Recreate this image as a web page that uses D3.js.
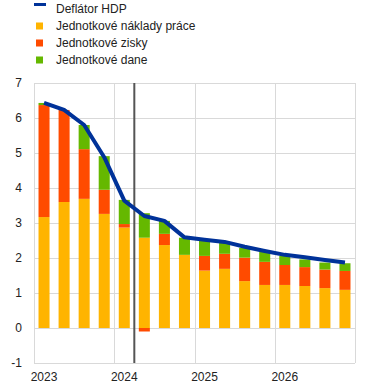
<!DOCTYPE html>
<html>
<head>
<meta charset="utf-8">
<script src="https://cdn.jsdelivr.net/npm/d3@7"></script>
<style>
  body { margin: 0; background: #fff; }
  text { font-family: Arial, "Liberation Sans", sans-serif; font-size: 12px; fill: #222; }
</style>
</head>
<body>
<div id="chart"></div>
<script>
// quarters 2023Q1 - 2026Q4
var quarters = ["2023Q1","2023Q2","2023Q3","2023Q4","2024Q1","2024Q2","2024Q3","2024Q4",
  "2025Q1","2025Q2","2025Q3","2025Q4","2026Q1","2026Q2","2026Q3","2026Q4"];
var years = ["2023", "2024", "2025", "2026"];
var labour  = [3.17, 3.60, 3.69, 3.26, 2.87, 2.58, 2.37, 2.09, 1.64, 1.69, 1.34, 1.23, 1.23, 1.20, 1.14, 1.09];
var profits = [3.20, 2.63, 1.42, 0.69, 0.10, -0.10, 0.32, 0.00, 0.42, 0.43, 0.67, 0.66, 0.57, 0.54, 0.53, 0.54];
var taxes   = [0.06, 0.00, 0.69, 0.96, 0.69, 0.70, 0.37, 0.49, 0.43, 0.32, 0.28, 0.31, 0.26, 0.22, 0.20, 0.22];
var deflator = [6.43, 6.23, 5.80, 4.88, 3.64, 3.20, 3.06, 2.59, 2.52, 2.46, 2.32, 2.20, 2.09, 2.02, 1.94, 1.87];
var yTicks = [-1, 0, 1, 2, 3, 4, 5, 6, 7];
var seriesNames = ["Deflátor HDP", "Jednotkové náklady práce", "Jednotkové zisky", "Jednotkové dane"];
var colors = ["#003299", "#ffb400", "#ff4b00", "#65b800"];

var w = 372, h = 390;
var margin = {top: 83, right: 17, bottom: 27, left: 34};

var svg = d3.select("#chart").append("svg")
  .attr("width", w)
  .attr("height", h);

var x = d3.scaleBand()
  .domain(quarters)
  .range([margin.left, w - margin.right])
  .paddingInner(0.45)
  .paddingOuter(0.225);

var y = d3.scaleLinear()
  .domain([-1, 7])
  .range([h - margin.bottom, margin.top]);

// gridlines
svg.append("g")
  .selectAll("line")
  .data(yTicks)
  .enter()
  .append("line")
  .attr("x1", margin.left)
  .attr("x2", w - margin.right)
  .attr("y1", function(d) { return Math.round(y(d)) + 0.5; })
  .attr("y2", function(d) { return Math.round(y(d)) + 0.5; })
  .style("stroke", "#d9d9d9")
  .style("stroke-width", 1);

// vertical gridlines at year starts + frame edges
var yearEdges = years.map(function(d) { return d + "Q1"; });
svg.append("g")
  .selectAll("line")
  .data(yearEdges.concat(["end"]))
  .enter()
  .append("line")
  .attr("x1", function(d) { return d == "end" ? Math.round(w - margin.right) + 0.5 : Math.round(x(d) - x.step() * x.paddingOuter()) + 0.5; })
  .attr("x2", function(d) { return d == "end" ? Math.round(w - margin.right) + 0.5 : Math.round(x(d) - x.step() * x.paddingOuter()) + 0.5; })
  .attr("y1", margin.top)
  .attr("y2", h - margin.bottom)
  .style("stroke", "#d9d9d9")
  .style("stroke-width", 1);

// y labels
svg.append("g")
  .selectAll("text")
  .data(yTicks)
  .enter()
  .append("text")
  .attr("x", 22)
  .attr("y", function(d) { return y(d); })
  .attr("dy", "0.35em")
  .attr("text-anchor", "end")
  .text(function(d) { return d; });

// year labels centred on Q1 bars
svg.append("g")
  .selectAll("text")
  .data(years)
  .enter()
  .append("text")
  .attr("x", function(d) { return x(d + "Q1") + x.bandwidth() / 2; })
  .attr("y", 381)
  .attr("text-anchor", "middle")
  .text(function(d) { return d; });

// stacked bars (positive and negative stacked separately)
var stackData = quarters.map(function(q, i) {
  return {q: q, vals: [labour[i], profits[i], taxes[i]]};
});
var bars = svg.append("g");
stackData.forEach(function(d) {
  var pos = 0, neg = 0;
  d.vals.forEach(function(v, k) {
    if (v == 0) return;
    var y0, y1;
    if (v > 0) { y0 = pos; y1 = pos + v; pos = y1; }
    else { y0 = neg + v; y1 = neg; neg = y0; }
    bars.append("rect")
      .attr("x", x(d.q))
      .attr("width", x.bandwidth())
      .attr("y", y(y1))
      .attr("height", y(y0) - y(y1))
      .style("fill", colors[k + 1]);
  });
});

// projection cut-off line
var cut = x("2024Q1") + x.bandwidth() + x.step() * x.paddingInner() / 2;
svg.append("line")
  .attr("x1", cut)
  .attr("x2", cut)
  .attr("y1", margin.top)
  .attr("y2", h - margin.bottom)
  .style("stroke", "#555")
  .style("stroke-width", 2);

// deflator line
var line = d3.line()
  .x(function(d, i) { return x(quarters[i]) + x.bandwidth() / 2; })
  .y(function(d) { return y(d); });

svg.append("path")
  .datum(deflator)
  .attr("d", line)
  .style("fill", "none")
  .style("stroke", colors[0])
  .style("stroke-width", 4)
  .style("stroke-linejoin", "round");

// legend
var legend = svg.append("g");
seriesNames.forEach(function(name, i) {
  var ly = 9 + i * 17;
  if (i == 0) {
    legend.append("rect")
      .attr("x", 34).attr("y", 3)
      .attr("width", 12).attr("height", 3)
      .style("fill", colors[0]);
  } else {
    legend.append("rect")
      .attr("x", 36).attr("y", ly - 3.5)
      .attr("width", 7).attr("height", 7)
      .style("fill", colors[i]);
  }
  legend.append("text")
    .attr("x", 56)
    .attr("y", ly)
    .attr("dy", "0.35em")
    .text(name);
});
</script>
</body>
</html>
